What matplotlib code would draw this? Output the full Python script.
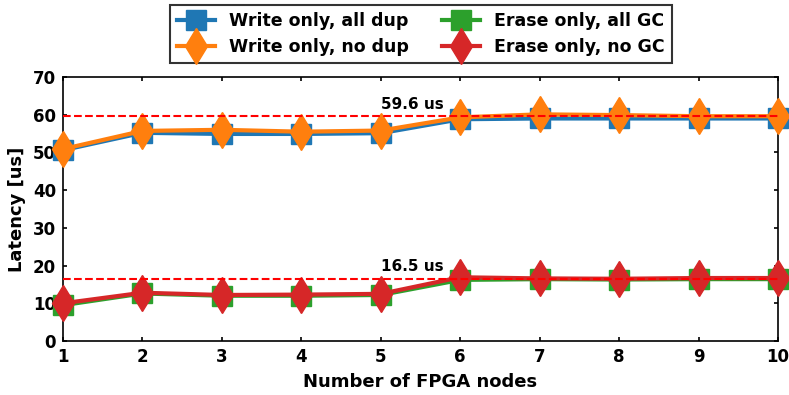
import matplotlib
matplotlib.use("Agg")
import matplotlib.pyplot as plt

nodes = [1, 2, 3, 4, 5, 6, 7, 8, 9, 10]
write_all_dup = [50.6, 55.2, 54.9, 54.9, 55.1, 58.8, 59.0, 59.0, 59.0, 59.0]
write_no_dup = [50.9, 55.7, 56.0, 55.5, 55.8, 59.3, 60.1, 59.9, 59.6, 59.6]
erase_all_gc = [9.5, 12.6, 12.0, 12.0, 12.2, 16.2, 16.4, 16.3, 16.4, 16.4]
erase_no_gc = [10.0, 12.8, 12.2, 12.3, 12.5, 16.9, 16.6, 16.5, 16.7, 16.7]
ref_write = 59.6
ref_erase = 16.5

plt.rcParams['font.family'] = ['DejaVu Sans']
plt.rcParams['font.weight'] = 'bold'
plt.rcParams['font.size'] = 12

fig = plt.figure(figsize=(7.89, 3.95), dpi=100)
ax = fig.add_axes([63/789, 1 - 341/395, (778-63)/789, (341-77)/395])

kw = dict(linewidth=3, clip_on=False, zorder=3)
ax.plot(nodes, write_all_dup, color='#1f77b4', marker='s', markersize=15, label='Write only, all dup', **kw)
ax.plot(nodes, write_no_dup, color='#ff7f0e', marker='d', markersize=18, label='Write only, no dup', **kw)
ax.plot(nodes, erase_all_gc, color='#2ca02c', marker='s', markersize=15, label='Erase only, all GC', **kw)
ax.plot(nodes, erase_no_gc, color='#d62728', marker='d', markersize=18, label='Erase only, no GC', **kw)

ax.axhline(ref_write, color='red', linestyle='--', linewidth=1.5, zorder=4)
ax.axhline(ref_erase, color='red', linestyle='--', linewidth=1.5, zorder=4)
ax.text(5.4, ref_write + 1.2, f'{ref_write} us', ha='center', va='bottom', fontsize=11, fontweight='bold')
ax.text(5.4, ref_erase + 1.2, f'{ref_erase} us', ha='center', va='bottom', fontsize=11, fontweight='bold')

ax.set_xlim(1, 10)
ax.set_ylim(0, 70)
ax.set_xticks(nodes)
ax.set_yticks(range(0, 71, 10))
ax.tick_params(direction='in', right=True, top=True, width=1.2, length=3, pad=5)
for s in ax.spines.values():
    s.set_linewidth(1.2)
    s.set_zorder(2)
ax.set_xlabel('Number of FPGA nodes', fontweight='bold', fontsize=13, labelpad=5)
ax.set_ylabel('Latency [us]', fontweight='bold', fontsize=13, labelpad=5)

leg = fig.legend(loc='upper center', bbox_to_anchor=(421/789, 1 - 5/395), ncol=2, frameon=True,
                 fancybox=False, edgecolor='black', handlelength=2.2, columnspacing=1.9,
                 borderpad=0.4, labelspacing=0.45, handletextpad=0.8, fontsize=12.5,
                 borderaxespad=0)
leg.get_frame().set_linewidth(1.5)

fig.savefig('out.png', dpi=100)
